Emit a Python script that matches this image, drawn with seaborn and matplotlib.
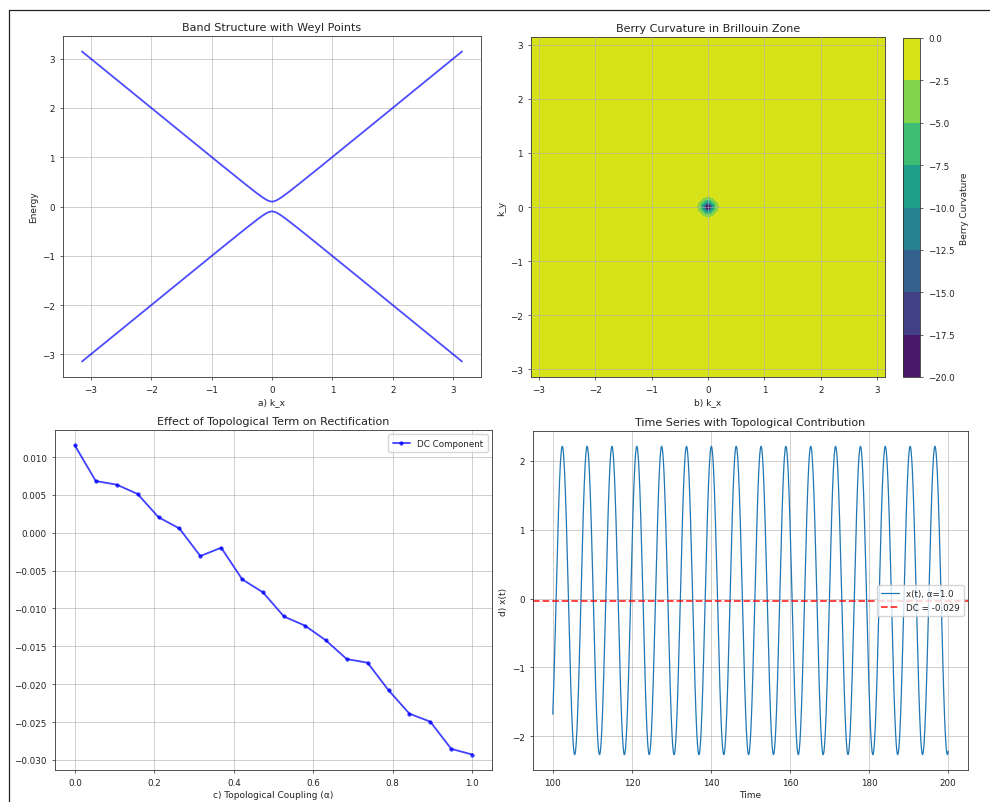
import numpy as np
import pandas as pd
import matplotlib
matplotlib.use("Agg")
import matplotlib.pyplot as plt
from matplotlib.lines import Line2D
from matplotlib.patches import Rectangle
import seaborn as sns

# ---------------- data ----------------
# a) band structure (ky = 0 cut), gap parameter
band_mass = 0.1
kx_values = np.linspace(-np.pi, np.pi, 400)

# b) Berry curvature field parameters
berry_mass = 0.1
berry_scale = 0.25
k_grid = np.linspace(-np.pi, np.pi, 100)

# c) DC component vs topological coupling
alpha_values = np.linspace(0, 1, 20)
dc_values = [0.01154, 0.00684, 0.00636, 0.00513, 0.00206, 0.00057, -0.00307,
             -0.00197, -0.00614, -0.00788, -0.01106, -0.01226, -0.01420,
             -0.01668, -0.01717, -0.02080, -0.02390, -0.02496, -0.02855,
             -0.02930]

# d) time series (amplitude, period, phase of first peak)
ts_amplitude = 2.24
ts_omega = 1.0
ts_first_peak = 102.4
ts_dc = -0.029
time_values = np.linspace(100, 200, 2000)

# ---------------- style ----------------
sns.set_style("white")
plt.rcParams.update({
    "font.family": ["DejaVu Sans"],
    "axes.titlesize": 8,
    "axes.labelsize": 6.5,
    "xtick.labelsize": 6.3,
    "ytick.labelsize": 6.3,
    "xtick.major.size": 2.3,
    "ytick.major.size": 2.3,
    "xtick.major.width": 0.5,
    "ytick.major.width": 0.5,
    "xtick.bottom": True,
    "ytick.left": True,
    "axes.edgecolor": "#333333",
    "axes.linewidth": 0.6,
    "legend.fontsize": 6.3,
    "text.color": "#222222",
    "axes.labelcolor": "#222222",
    "xtick.color": "#222222",
    "ytick.color": "#222222",
})

W, H = 990, 803
fig = plt.figure(figsize=(W / 100, H / 100), dpi=100)


def box(l, t, r, b):
    return [l / W, 1 - b / H, (r - l) / W, (b - t) / H]


grid_kw = dict(color="#b0b0b0", alpha=0.6, linewidth=0.7)

# ---- a) band structure ----
ax1 = fig.add_axes(box(63, 37, 481, 378))
e_upper = np.sqrt(kx_values ** 2 + band_mass ** 2)
e_lower = -e_upper
sns.lineplot(x=kx_values, y=e_upper, ax=ax1, color="blue", alpha=0.7, linewidth=1.3)
sns.lineplot(x=kx_values, y=e_lower, ax=ax1, color="blue", alpha=0.7, linewidth=1.3)
ax1.set_title("Band Structure with Weyl Points", pad=4)
ax1.set_xlabel("a) k_x", labelpad=2)
ax1.set_ylabel("Energy", labelpad=3)
ax1.grid(True, **grid_kw)

# ---- b) Berry curvature ----
ax2 = fig.add_axes(box(531, 38, 885, 378))
cax = fig.add_axes(box(903, 39, 920, 378))
KX, KY = np.meshgrid(k_grid, k_grid)
omega = -berry_scale * berry_mass / (KX ** 2 + KY ** 2 + berry_mass ** 2) ** 1.5
cf = ax2.contourf(KX, KY, omega, levels=np.arange(-20, 0.01, 2.5), cmap="viridis")
cb = fig.colorbar(cf, cax=cax)
cb.set_label("Berry Curvature", fontsize=6.5)
cb.ax.tick_params(labelsize=6.3, length=2.3, width=0.5)
cb.outline.set_linewidth(0.6)
ax2.set_title("Berry Curvature in Brillouin Zone", pad=4)
ax2.set_xlabel("b) k_x", labelpad=2)
ax2.set_ylabel("k_y", labelpad=3)
ax2.grid(True, **grid_kw)
ax2.set_axisbelow(False)

# ---- c) DC component ----
ax3 = fig.add_axes(box(55, 431, 492, 771))
df_dc = pd.DataFrame({"alpha": alpha_values, "dc": dc_values})
sns.lineplot(data=df_dc, x="alpha", y="dc", ax=ax3, color="blue", alpha=0.75,
             linewidth=1.3, marker="o", markersize=2.5, mec="blue", mew=0.5,
             label="DC Component")
ax3.set_title("Effect of Topological Term on Rectification", pad=4)
ax3.set_xlabel("c) Topological Coupling (α)", labelpad=2)
ax3.set_ylabel("DC Component")
ax3.yaxis.set_label_coords(-48 / 437, 0.52)
ax3.grid(True, **grid_kw)
ax3.legend(loc="upper right", frameon=True, fancybox=True, framealpha=0.8,
           handlelength=2, borderpad=0.5)

# ---- d) time series ----
ax4 = fig.add_axes(box(533, 432, 968, 771))
x_t = ts_amplitude * np.cos(ts_omega * (time_values - ts_first_peak)) + ts_dc
sns.lineplot(x=time_values, y=x_t, ax=ax4, color="#1f77b4", linewidth=0.9,
             label="x(t), α=1.0")
ax4.axhline(ts_dc, color="red", linestyle="--", alpha=0.8, linewidth=1.3,
            label=f"DC = {ts_dc:.3f}")
ax4.set_title("Time Series with Topological Contribution", pad=4)
ax4.set_xlabel("Time", labelpad=2)
ax4.set_ylabel("d) x(t)", labelpad=3)
ax4.grid(True, **grid_kw)
ax4.legend(loc="center right", frameon=True, fancybox=True, framealpha=0.8,
           handlelength=2, borderpad=0.5)

# ---- screenshot frame ----
fig.patches.append(Rectangle((0, 0), 8.5 / W, 1, transform=fig.transFigure,
                             facecolor="white", edgecolor="none", zorder=10))
fig.patches.append(Rectangle((0, 1 - 10.5 / H), 1, 10.5 / H, transform=fig.transFigure,
                             facecolor="white", edgecolor="none", zorder=10))
fig.lines.append(Line2D([8.5 / W, 8.5 / W], [0, 1 - 10.5 / H], transform=fig.transFigure,
                        color="#222222", linewidth=0.9, zorder=11))
fig.lines.append(Line2D([8.5 / W, 1], [1 - 10.5 / H, 1 - 10.5 / H], transform=fig.transFigure,
                        color="#222222", linewidth=0.9, zorder=11))

fig.savefig("out.png", dpi=100)
